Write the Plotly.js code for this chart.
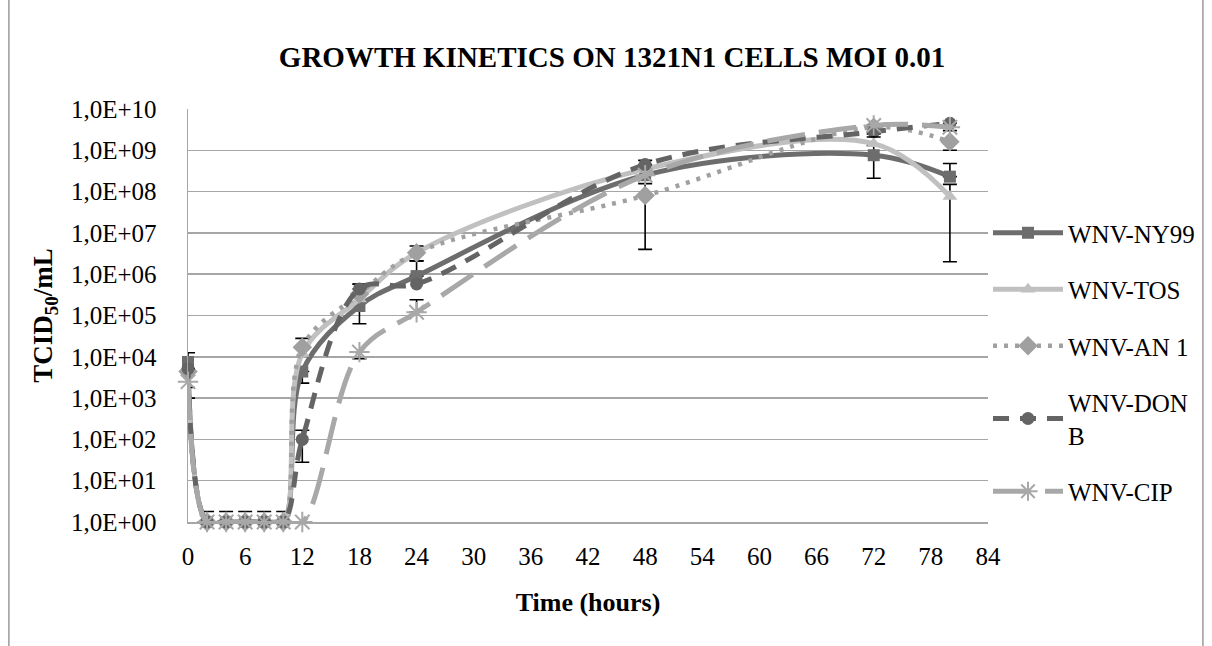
<!DOCTYPE html>
<html><head><meta charset="utf-8">
<script src="https://cdn.plot.ly/plotly-3.0.1.min.js"></script>
<style>html,body{margin:0;padding:0;background:#fff}#chart{width:1212px;height:646px}</style>
</head><body><div id="chart"></div>
<script>
// ---- data ----
const hours = [0, 2, 4, 6, 8, 10, 12, 18, 24, 48, 72, 80];
const seriesNames = ['WNV-NY99', 'WNV-TOS', 'WNV-AN 1', 'WNV-DON<br>B', 'WNV-CIP'];

const ny99Values   = [7.5e3, 1, 1, 1, 1, 1, 4.4e3, 1.7e5, 9.0e5, 2.5e8, 7.6e8, 2.3e8];
const ny99ErrPlus  = [5e3, 0.8, 0.8, 0.8, 0.8, 0.8, null, 4e5, 1.2e6, null, 5.5e8, 2.5e8];
const ny99ErrMinus = [6.5e3, null, null, null, null, null, 2.1e3, 1.07e5, null, null, 5.5e8, null];

const tosValues    = [5.0e3, 1, 1, 1, 1, 1, 1.2e4, 2.5e5, 3.3e6, 3.5e8, 1.45e9, 7.6e7];
const tosErrPlus   = [null, null, null, null, null, null, null, null, null, null, null, 7.4e7];
const tosErrMinus  = [null, null, null, null, null, null, null, null, null, null, null, 7.4e7];

const an1Values    = [4.4e3, 1, 1, 1, 1, 1, 1.7e4, 3.3e5, 3.3e6, 8.0e7, 3.6e9, 1.6e9];
const an1ErrPlus   = [null, null, null, null, null, null, 1.1e4, null, 1.5e6, 7.6e7, null, null];
const an1ErrMinus  = [null, null, null, null, null, null, null, null, 1.2e6, 7.6e7, null, 6e8];

const donValues    = [5.2e3, 1, 1, 1, 1, 1, 1.0e2, 4.4e5, 5.8e5, 4.5e8, 2.8e9, 4.5e9];
const donErrPlus   = [null, null, null, null, null, null, 66, 1.4e5, null, 1.2e8, null, null];
const donErrMinus  = [3.4e3, null, null, null, null, null, 72, null, null, null, 3e8, 1.5e9];

const cipValues    = [2.5e3, 1, 1, 1, 1, 1, 1, 1.3e4, 1.2e5, 2.5e8, 4.0e9, 3.6e9];
const cipErrPlus   = [null, null, null, null, null, null, null, null, 1.2e5, null, null, null];
const cipErrMinus  = [null, null, null, null, null, null, null, 4e3, null, null, 1.9e9, null];

const xTickVals = [0, 6, 12, 18, 24, 30, 36, 42, 48, 54, 60, 66, 72, 78, 84];
const yTickVals = [1, 1e1, 1e2, 1e3, 1e4, 1e5, 1e6, 1e7, 1e8, 1e9, 1e10];
const yTickText = ['1,0E+00', '1,0E+01', '1,0E+02', '1,0E+03', '1,0E+04', '1,0E+05',
                   '1,0E+06', '1,0E+07', '1,0E+08', '1,0E+09', '1,0E+10'];

// ---- styles ----
const toNaN = a => a.map(v => (v === null ? NaN : v));
function errBars(plus, minus) {
  return {type: 'data', symmetric: false, array: toNaN(plus), arrayminus: toNaN(minus),
          color: '#000000', thickness: 1.6, width: 7};
}
const styles = [
  {line: {color: '#6d6d6d', width: 5, dash: 'solid'},
   marker: {symbol: 'square', size: 12, color: '#6d6d6d'}},
  {line: {color: '#c0c0c0', width: 5, dash: 'solid'},
   marker: {symbol: 'triangle-up', size: 13, color: '#c0c0c0'}},
  {line: {color: '#a0a0a0', width: 4.5, dash: '4px,7px'},
   marker: {symbol: 'diamond', size: 15, color: '#a0a0a0'}},
  {line: {color: '#646464', width: 5, dash: '16px,11px'},
   marker: {symbol: 'circle', size: 13, color: '#646464'}},
  {line: {color: '#a8a8a8', width: 5, dash: '38px,14px'},
   marker: {symbol: 'asterisk-open', size: 17, color: '#a8a8a8', line: {color: '#a8a8a8', width: 2}}}
];
const seriesValues = [ny99Values, tosValues, an1Values, donValues, cipValues];
const seriesErr = [
  errBars(ny99ErrPlus, ny99ErrMinus), errBars(tosErrPlus, tosErrMinus),
  errBars(an1ErrPlus, an1ErrMinus), errBars(donErrPlus, donErrMinus),
  errBars(cipErrPlus, cipErrMinus)
];

const traces = seriesNames.map((name, i) => ({
  type: 'scatter', mode: 'lines+markers', name: name,
  x: hours, y: seriesValues[i],
  line: Object.assign({shape: 'spline', smoothing: 1}, styles[i].line),
  marker: styles[i].marker,
  error_y: seriesErr[i],
  legendgroup: 'g' + i,
  cliponaxis: false
}));

const L = 188, R = 992, T = 109, B = 522, W = 1212, H = 646;
const px2x = p => (p - L) / (R - L);
const px2y = p => (B - p) / (B - T);

const layout = {
  width: W, height: H,
  margin: {l: L, r: W - R, t: T, b: H - B, pad: 0},
  paper_bgcolor: '#ffffff', plot_bgcolor: '#ffffff',
  font: {family: '"Liberation Serif", "Times New Roman", serif', size: 25, color: '#000000'},
  showlegend: true,
  title: {
    text: '<b>GROWTH KINETICS ON 1321N1 CELLS MOI 0.01</b>',
    font: {size: 29, family: '"Liberation Serif", serif', color: '#000'},
    xref: 'container', x: 612 / W, xanchor: 'center',
    yref: 'container', y: 1 - 57 / H, yanchor: 'middle'
  },
  xaxis: {
    range: [0, 84], tickmode: 'array', tickvals: xTickVals,
    ticks: '', showgrid: false, zeroline: false,
    showline: true, linecolor: '#a6a6a6', linewidth: 1.5,
    ticklabelstandoff: 11,
    title: {text: '<b>Time (hours)</b>', font: {size: 26}, standoff: 24}
  },
  yaxis: {
    type: 'log', range: [0, 10], tickmode: 'array', tickvals: yTickVals, ticktext: yTickText,
    ticks: '', showgrid: true, gridcolor: '#a6a6a6', gridwidth: 1.5,
    showline: true, linecolor: '#a6a6a6', linewidth: 1.5, zeroline: false,
    ticklabelstandoff: 25,
    title: {text: '<b>TCID<sub>50</sub>/mL</b>', font: {size: 27}, standoff: 10}
  },
  legend: {
    x: 1.0, xanchor: 'left', y: px2y(210), yanchor: 'top',
    traceorder: 'grouped', tracegroupgap: 21, itemwidth: 70,
    font: {size: 25}, bgcolor: 'rgba(0,0,0,0)', borderwidth: 0
  },
  shapes: [
    {type: 'line', xref: 'paper', yref: 'paper', x0: px2x(8), x1: px2x(8), y0: px2y(0), y1: px2y(H),
     line: {color: '#9a9a9a', width: 1.5}},
    {type: 'line', xref: 'paper', yref: 'paper', x0: px2x(1208), x1: px2x(1208), y0: px2y(0), y1: px2y(H),
     line: {color: '#9a9a9a', width: 1.5}}
  ]
};

Plotly.newPlot('chart', traces, layout, {displayModeBar: false, staticPlot: true});
</script>
</body></html>
